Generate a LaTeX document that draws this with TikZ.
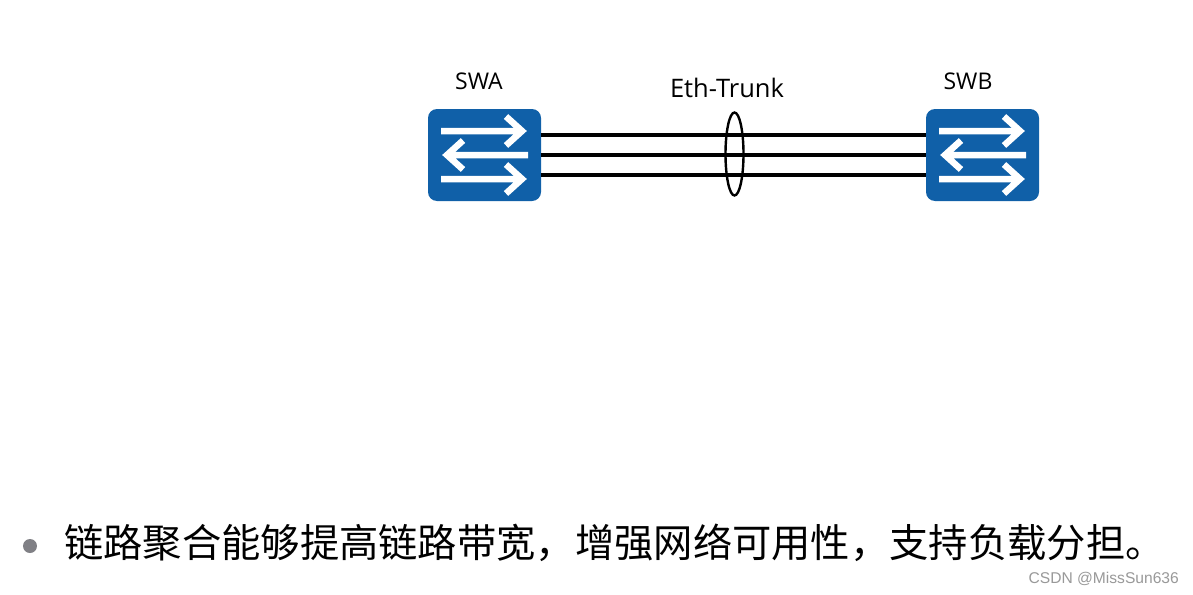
\documentclass[tikz,border=0pt]{standalone}
\usepackage{fontspec}
\setmainfont{Open Sans}
\newfontfamily\cjkfont{Noto Sans CJK SC}[Scale=1]
\newfontfamily\wmfont{Liberation Sans}
\usetikzlibrary{shapes.geometric}
\definecolor{swblue}{HTML}{1060A8}
\definecolor{bulletgrey}{HTML}{808085}
\tikzset{
  x=1pt,y=-1pt,
  switchbox/.style={fill=swblue,rounded corners=9pt,minimum width=113pt,minimum height=92pt,inner sep=0pt,draw=none},
  swarrow/.style={draw=white,line width=6.5pt},
  link/.style={line width=4pt,draw=black},
  swlabel/.style={font=\fontsize{23}{27}\selectfont,inner sep=0pt},
  pics/swicons/.style={code={
    \draw[swarrow] (-87,-24)--(-6,-24) (-22,-38.5)--(-6,-24)--(-22,-9.5);
    \draw[swarrow] (0,0)--(-81,0) (-65,-14.5)--(-81,0)--(-65,14.5);
    \draw[swarrow] (-87,24)--(-6,24) (-22,9.5)--(-6,24)--(-22,38.5);
  }}
}
\begin{document}
\begin{tikzpicture}
\useasboundingbox (0,0) rectangle (1193,594);
\fill[white] (0,0) rectangle (1193,594);
\node[switchbox] (swa) at (484.5,155) {};
\node[switchbox] (swb) at (982.5,155) {};
\path (528,155) pic {swicons};
\path (1026,155) pic {swicons};
\draw[link] ([yshift=20.5pt]swa.east) -- ([yshift=20.5pt]swb.west);
\draw[link] (swa.east) -- (swb.west);
\draw[link] ([yshift=-20pt]swa.east) -- ([yshift=-20pt]swb.west);
\node[ellipse,draw=black,line width=2.4pt,minimum width=18pt,minimum height=83pt,inner sep=0pt] (trunk) at (734.5,154) {};
\node[swlabel] (swaL) at (479,81) {SWA};
\node[swlabel] (swbL) at (968,81) {SWB};
\node[font=\fontsize{25.5}{30}\selectfont,inner sep=0pt] (ethL) at (727,88) {Eth-Trunk};
\node[circle,fill=bulletgrey,minimum size=14pt,inner sep=0pt] (bullet) at (30,546) {};
\node[anchor=west,inner sep=0pt,font=\fontsize{39.3}{46}\cjkfont] (txt) at (64,543) {链路聚合能够提高链路带宽，增强网络可用性，支持负载分担。};
\node[anchor=east,inner sep=0pt,text=black!40,font=\fontsize{15.6}{18}\wmfont] (wm) at (1179,579) {CSDN @MissSun636};
\end{tikzpicture}
\end{document}
